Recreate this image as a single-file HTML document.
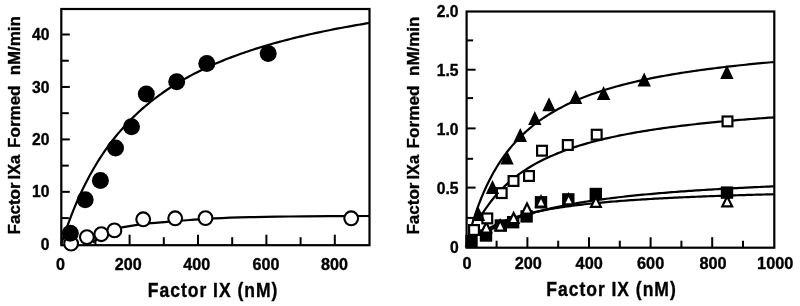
<!DOCTYPE html>
<html><head><meta charset="utf-8"><style>html,body{margin:0;padding:0;background:#fff;width:800px;height:306px;overflow:hidden}text{stroke:#000;stroke-width:0.35px;stroke-linejoin:round}svg{display:block;filter:grayscale(100%)}</style></head><body>
<svg width="800" height="306" viewBox="0 0 800 306" style="font-family:'Liberation Sans',sans-serif;font-weight:bold">
<rect width="800" height="306" fill="#fff"/>
<rect x="61.3" y="9.0" width="308.20" height="236.20" fill="none" stroke="#000" stroke-width="2.2"/>
<line x1="95.40" y1="245.20" x2="95.40" y2="237.20" stroke="#000" stroke-width="2.0"/>
<line x1="129.60" y1="245.20" x2="129.60" y2="234.70" stroke="#000" stroke-width="2.0"/>
<line x1="163.80" y1="245.20" x2="163.80" y2="237.20" stroke="#000" stroke-width="2.0"/>
<line x1="198.00" y1="245.20" x2="198.00" y2="234.70" stroke="#000" stroke-width="2.0"/>
<line x1="232.20" y1="245.20" x2="232.20" y2="237.20" stroke="#000" stroke-width="2.0"/>
<line x1="266.40" y1="245.20" x2="266.40" y2="234.70" stroke="#000" stroke-width="2.0"/>
<line x1="300.60" y1="245.20" x2="300.60" y2="237.20" stroke="#000" stroke-width="2.0"/>
<line x1="334.80" y1="245.20" x2="334.80" y2="234.70" stroke="#000" stroke-width="2.0"/>
<line x1="61.30" y1="218.08" x2="68.80" y2="218.08" stroke="#000" stroke-width="2.0"/>
<line x1="61.30" y1="191.85" x2="69.80" y2="191.85" stroke="#000" stroke-width="2.0"/>
<line x1="61.30" y1="165.62" x2="68.80" y2="165.62" stroke="#000" stroke-width="2.0"/>
<line x1="61.30" y1="139.40" x2="69.80" y2="139.40" stroke="#000" stroke-width="2.0"/>
<line x1="61.30" y1="113.18" x2="68.80" y2="113.18" stroke="#000" stroke-width="2.0"/>
<line x1="61.30" y1="86.95" x2="69.80" y2="86.95" stroke="#000" stroke-width="2.0"/>
<line x1="61.30" y1="60.72" x2="68.80" y2="60.72" stroke="#000" stroke-width="2.0"/>
<line x1="61.30" y1="34.50" x2="69.80" y2="34.50" stroke="#000" stroke-width="2.0"/>
<path d="M61.20,244.30 L63.77,236.38 L66.33,228.88 L68.90,221.78 L71.46,215.05 L74.03,208.64 L76.59,202.55 L79.16,196.75 L81.72,191.22 L84.28,185.94 L86.85,180.89 L89.42,176.06 L91.98,171.44 L94.55,167.01 L97.11,162.76 L99.68,158.68 L102.24,154.76 L104.81,150.99 L107.37,147.36 L109.94,143.87 L112.50,140.50 L115.06,137.25 L117.63,134.12 L120.20,131.09 L122.76,128.17 L125.33,125.34 L127.89,122.61 L130.46,119.96 L133.02,117.40 L135.59,114.92 L138.15,112.51 L140.72,110.18 L143.28,107.92 L145.85,105.72 L148.41,103.59 L150.98,101.51 L153.54,99.50 L156.11,97.54 L158.67,95.64 L161.24,93.78 L163.80,91.98 L166.37,90.22 L168.93,88.51 L171.50,86.84 L174.06,85.22 L176.62,83.63 L179.19,82.09 L181.75,80.58 L184.32,79.11 L186.89,77.67 L189.45,76.27 L192.01,74.90 L194.58,73.56 L197.15,72.25 L199.71,70.97 L202.28,69.72 L204.84,68.50 L207.41,67.30 L209.97,66.13 L212.54,64.99 L215.10,63.86 L217.67,62.77 L220.23,61.69 L222.80,60.64 L225.36,59.60 L227.93,58.59 L230.49,57.60 L233.06,56.63 L235.62,55.67 L238.19,54.74 L240.75,53.82 L243.31,52.92 L245.88,52.04 L248.44,51.17 L251.01,50.32 L253.58,49.48 L256.14,48.66 L258.71,47.86 L261.27,47.06 L263.84,46.29 L266.40,45.52 L268.97,44.77 L271.53,44.03 L274.10,43.31 L276.66,42.59 L279.23,41.89 L281.79,41.20 L284.36,40.52 L286.92,39.85 L289.49,39.20 L292.05,38.55 L294.62,37.91 L297.18,37.29 L299.75,36.67 L302.31,36.06 L304.88,35.46 L307.44,34.88 L310.00,34.30 L312.57,33.72 L315.14,33.16 L317.70,32.61 L320.26,32.06 L322.83,31.52 L325.39,30.99 L327.96,30.47 L330.53,29.96 L333.09,29.45 L335.66,28.95 L338.22,28.45 L340.79,27.97 L343.35,27.49 L345.92,27.01 L348.48,26.55 L351.05,26.08 L353.61,25.63 L356.18,25.18 L358.74,24.74 L361.31,24.30 L363.87,23.87 L366.44,23.45 L369.00,23.03" fill="none" stroke="#000" stroke-width="2.2"/>
<path d="M93.00,242.50 C94.17,241.67 97.50,239.17 100.00,237.50 C102.50,235.83 105.33,233.92 108.00,232.50 C110.67,231.08 113.67,229.87 116.00,229.00 C118.33,228.13 118.73,227.95 122.00,227.30 C125.27,226.65 130.72,225.78 135.60,225.10 C140.48,224.42 146.07,223.73 151.30,223.20 C156.53,222.67 160.55,222.43 167.00,221.90 C173.45,221.37 182.07,220.58 190.00,220.00 C197.93,219.42 204.60,218.87 214.60,218.40 C224.60,217.93 237.43,217.52 250.00,217.20 C262.57,216.88 276.67,216.67 290.00,216.50 C303.33,216.33 316.75,216.28 330.00,216.20 C343.25,216.12 362.92,216.03 369.50,216.00" fill="none" stroke="#000" stroke-width="2.2"/>
<circle cx="71.1" cy="243.6" r="6.9" fill="#fff" stroke="#000" stroke-width="2.1"/>
<circle cx="86.9" cy="237.1" r="6.9" fill="#fff" stroke="#000" stroke-width="2.1"/>
<circle cx="101.3" cy="234.2" r="6.9" fill="#fff" stroke="#000" stroke-width="2.1"/>
<circle cx="114.4" cy="230.4" r="6.9" fill="#fff" stroke="#000" stroke-width="2.1"/>
<circle cx="143.2" cy="219.3" r="6.9" fill="#fff" stroke="#000" stroke-width="2.1"/>
<circle cx="175.2" cy="218.3" r="6.9" fill="#fff" stroke="#000" stroke-width="2.1"/>
<circle cx="205.5" cy="218.1" r="6.9" fill="#fff" stroke="#000" stroke-width="2.1"/>
<circle cx="351.2" cy="218.3" r="6.9" fill="#fff" stroke="#000" stroke-width="2.1"/>
<circle cx="70.3" cy="233.2" r="8.5" fill="#000"/>
<circle cx="85.2" cy="199.8" r="8.5" fill="#000"/>
<circle cx="100.4" cy="180.5" r="8.5" fill="#000"/>
<circle cx="115.5" cy="148.0" r="8.5" fill="#000"/>
<circle cx="131.5" cy="126.8" r="8.5" fill="#000"/>
<circle cx="146.3" cy="94.0" r="8.5" fill="#000"/>
<circle cx="176.7" cy="81.7" r="8.5" fill="#000"/>
<circle cx="206.8" cy="63.5" r="8.5" fill="#000"/>
<circle cx="268.2" cy="53.4" r="8.5" fill="#000"/>
<rect x="466.6" y="11.5" width="307.70" height="236.20" fill="none" stroke="#000" stroke-width="2.2"/>
<line x1="496.60" y1="247.70" x2="496.60" y2="240.70" stroke="#000" stroke-width="2.0"/>
<line x1="527.40" y1="247.70" x2="527.40" y2="237.20" stroke="#000" stroke-width="2.0"/>
<line x1="558.20" y1="247.70" x2="558.20" y2="240.70" stroke="#000" stroke-width="2.0"/>
<line x1="589.00" y1="247.70" x2="589.00" y2="237.20" stroke="#000" stroke-width="2.0"/>
<line x1="619.80" y1="247.70" x2="619.80" y2="240.70" stroke="#000" stroke-width="2.0"/>
<line x1="650.60" y1="247.70" x2="650.60" y2="237.20" stroke="#000" stroke-width="2.0"/>
<line x1="681.40" y1="247.70" x2="681.40" y2="240.70" stroke="#000" stroke-width="2.0"/>
<line x1="712.20" y1="247.70" x2="712.20" y2="237.20" stroke="#000" stroke-width="2.0"/>
<line x1="743.00" y1="247.70" x2="743.00" y2="240.70" stroke="#000" stroke-width="2.0"/>
<line x1="466.60" y1="217.90" x2="473.10" y2="217.90" stroke="#000" stroke-width="2.0"/>
<line x1="466.60" y1="187.60" x2="475.60" y2="187.60" stroke="#000" stroke-width="2.0"/>
<line x1="466.60" y1="158.80" x2="473.10" y2="158.80" stroke="#000" stroke-width="2.0"/>
<line x1="466.60" y1="128.40" x2="475.60" y2="128.40" stroke="#000" stroke-width="2.0"/>
<line x1="466.60" y1="98.10" x2="473.10" y2="98.10" stroke="#000" stroke-width="2.0"/>
<line x1="466.60" y1="69.70" x2="475.60" y2="69.70" stroke="#000" stroke-width="2.0"/>
<line x1="466.60" y1="40.40" x2="473.10" y2="40.40" stroke="#000" stroke-width="2.0"/>
<path d="M465.80,247.50 L468.37,237.38 L470.93,228.16 L473.50,219.73 L476.07,211.98 L478.63,204.85 L481.20,198.26 L483.77,192.14 L486.33,186.46 L488.90,181.16 L491.47,176.21 L494.03,171.57 L496.60,167.22 L499.17,163.13 L501.73,159.28 L504.30,155.65 L506.87,152.21 L509.43,148.96 L512.00,145.88 L514.57,142.95 L517.13,140.17 L519.70,137.52 L522.27,135.00 L524.83,132.59 L527.40,130.29 L529.97,128.10 L532.53,125.99 L535.10,123.98 L537.67,122.05 L540.23,120.20 L542.80,118.42 L545.37,116.71 L547.93,115.06 L550.50,113.48 L553.07,111.95 L555.63,110.48 L558.20,109.06 L560.77,107.70 L563.33,106.37 L565.90,105.10 L568.47,103.86 L571.03,102.67 L573.60,101.51 L576.17,100.39 L578.73,99.30 L581.30,98.25 L583.87,97.23 L586.43,96.24 L589.00,95.28 L591.57,94.34 L594.13,93.44 L596.70,92.56 L599.27,91.70 L601.83,90.86 L604.40,90.05 L606.97,89.26 L609.53,88.49 L612.10,87.74 L614.67,87.01 L617.23,86.30 L619.80,85.61 L622.37,84.93 L624.93,84.27 L627.50,83.62 L630.07,82.99 L632.63,82.38 L635.20,81.78 L637.77,81.19 L640.33,80.62 L642.90,80.05 L645.47,79.51 L648.03,78.97 L650.60,78.44 L653.17,77.93 L655.73,77.43 L658.30,76.94 L660.87,76.45 L663.43,75.98 L666.00,75.52 L668.57,75.06 L671.13,74.62 L673.70,74.18 L676.27,73.76 L678.83,73.34 L681.40,72.93 L683.97,72.53 L686.53,72.13 L689.10,71.74 L691.67,71.36 L694.23,70.99 L696.80,70.62 L699.37,70.26 L701.93,69.90 L704.50,69.56 L707.07,69.21 L709.63,68.88 L712.20,68.55 L714.77,68.22 L717.33,67.91 L719.90,67.59 L722.47,67.28 L725.03,66.98 L727.60,66.68 L730.17,66.39 L732.73,66.10 L735.30,65.81 L737.87,65.53 L740.43,65.26 L743.00,64.99 L745.57,64.72 L748.13,64.46 L750.70,64.20 L753.27,63.94 L755.83,63.69 L758.40,63.45 L760.97,63.20 L763.53,62.96 L766.10,62.73 L768.67,62.49 L771.23,62.26 L773.80,62.04" fill="none" stroke="#000" stroke-width="2.2"/>
<path d="M478.74,219.79 L481.19,215.61 L483.65,211.69 L486.11,208.01 L488.57,204.55 L491.03,201.29 L493.49,198.22 L495.95,195.31 L498.41,192.56 L500.87,189.95 L503.32,187.48 L505.78,185.12 L508.24,182.88 L510.70,180.75 L513.16,178.71 L515.62,176.77 L518.08,174.91 L520.54,173.13 L523.00,171.43 L525.45,169.79 L527.91,168.22 L530.37,166.72 L532.83,165.27 L535.29,163.88 L537.75,162.54 L540.21,161.25 L542.67,160.00 L545.13,158.80 L547.58,157.64 L550.04,156.53 L552.50,155.44 L554.96,154.40 L557.42,153.39 L559.88,152.41 L562.34,151.46 L564.80,150.54 L567.26,149.65 L569.71,148.79 L572.17,147.95 L574.63,147.13 L577.09,146.34 L579.55,145.57 L582.01,144.83 L584.47,144.10 L586.93,143.40 L589.38,142.71 L591.84,142.04 L594.30,141.39 L596.76,140.75 L599.22,140.13 L601.68,139.53 L604.14,138.94 L606.60,138.37 L609.06,137.81 L611.51,137.26 L613.97,136.73 L616.43,136.21 L618.89,135.70 L621.35,135.20 L623.81,134.72 L626.27,134.24 L628.73,133.78 L631.19,133.32 L633.64,132.88 L636.10,132.44 L638.56,132.02 L641.02,131.60 L643.48,131.19 L645.94,130.79 L648.40,130.40 L650.86,130.02 L653.32,129.64 L655.77,129.27 L658.23,128.91 L660.69,128.55 L663.15,128.21 L665.61,127.86 L668.07,127.53 L670.53,127.20 L672.99,126.88 L675.45,126.56 L677.90,126.25 L680.36,125.94 L682.82,125.64 L685.28,125.35 L687.74,125.06 L690.20,124.78 L692.66,124.50 L695.12,124.22 L697.58,123.95 L700.03,123.69 L702.49,123.42 L704.95,123.17 L707.41,122.91 L709.87,122.67 L712.33,122.42 L714.79,122.18 L717.25,121.94 L719.70,121.71 L722.16,121.48 L724.62,121.25 L727.08,121.03 L729.54,120.81 L732.00,120.60 L734.46,120.38 L736.92,120.17 L739.38,119.97 L741.83,119.76 L744.29,119.56 L746.75,119.37 L749.21,119.17 L751.67,118.98 L754.13,118.79 L756.59,118.60 L759.05,118.42 L761.51,118.24 L763.96,118.06 L766.42,117.88 L768.88,117.71 L771.34,117.54 L773.80,117.37" fill="none" stroke="#000" stroke-width="2.2"/>
<path d="M482.74,234.45 L485.17,232.93 L487.59,231.48 L490.02,230.10 L492.44,228.77 L494.87,227.51 L497.29,226.29 L499.72,225.13 L502.14,224.01 L504.57,222.94 L507.00,221.91 L509.42,220.91 L511.85,219.96 L514.27,219.04 L516.70,218.15 L519.12,217.29 L521.55,216.47 L523.97,215.67 L526.40,214.90 L528.82,214.15 L531.25,213.43 L533.68,212.73 L536.10,212.05 L538.53,211.40 L540.95,210.76 L543.38,210.14 L545.80,209.55 L548.23,208.96 L550.65,208.40 L553.08,207.85 L555.50,207.32 L557.93,206.80 L560.36,206.29 L562.78,205.80 L565.21,205.32 L567.63,204.86 L570.06,204.41 L572.48,203.96 L574.91,203.53 L577.33,203.11 L579.76,202.70 L582.19,202.30 L584.61,201.91 L587.04,201.53 L589.46,201.16 L591.89,200.79 L594.31,200.44 L596.74,200.09 L599.16,199.75 L601.59,199.42 L604.01,199.09 L606.44,198.78 L608.87,198.47 L611.29,198.16 L613.72,197.86 L616.14,197.57 L618.57,197.28 L620.99,197.00 L623.42,196.73 L625.84,196.46 L628.27,196.20 L630.70,195.94 L633.12,195.68 L635.55,195.43 L637.97,195.19 L640.40,194.95 L642.82,194.72 L645.25,194.48 L647.67,194.26 L650.10,194.04 L652.52,193.82 L654.95,193.60 L657.38,193.39 L659.80,193.18 L662.23,192.98 L664.65,192.78 L667.08,192.58 L669.50,192.39 L671.93,192.20 L674.35,192.01 L676.78,191.83 L679.21,191.65 L681.63,191.47 L684.06,191.29 L686.48,191.12 L688.91,190.95 L691.33,190.79 L693.76,190.62 L696.18,190.46 L698.61,190.30 L701.03,190.14 L703.46,189.99 L705.89,189.84 L708.31,189.69 L710.74,189.54 L713.16,189.39 L715.59,189.25 L718.01,189.11 L720.44,188.97 L722.86,188.83 L725.29,188.69 L727.72,188.56 L730.14,188.43 L732.57,188.30 L734.99,188.17 L737.42,188.04 L739.84,187.92 L742.27,187.80 L744.69,187.67 L747.12,187.56 L749.55,187.44 L751.97,187.32 L754.40,187.21 L756.82,187.09 L759.25,186.98 L761.67,186.87 L764.10,186.76 L766.52,186.65 L768.95,186.54 L771.37,186.44 L773.80,186.34" fill="none" stroke="#000" stroke-width="2.2"/>
<path d="M482.74,232.30 L485.17,230.71 L487.59,229.22 L490.02,227.83 L492.44,226.52 L494.87,225.29 L497.29,224.14 L499.72,223.04 L502.14,222.01 L504.57,221.03 L507.00,220.10 L509.42,219.22 L511.85,218.38 L514.27,217.58 L516.70,216.82 L519.12,216.10 L521.55,215.41 L523.97,214.74 L526.40,214.11 L528.82,213.50 L531.25,212.92 L533.68,212.36 L536.10,211.82 L538.53,211.31 L540.95,210.81 L543.38,210.33 L545.80,209.87 L548.23,209.43 L550.65,209.00 L553.08,208.58 L555.50,208.18 L557.93,207.80 L560.36,207.42 L562.78,207.06 L565.21,206.71 L567.63,206.38 L570.06,206.05 L572.48,205.73 L574.91,205.42 L577.33,205.12 L579.76,204.83 L582.19,204.55 L584.61,204.27 L587.04,204.01 L589.46,203.75 L591.89,203.49 L594.31,203.25 L596.74,203.01 L599.16,202.78 L601.59,202.55 L604.01,202.33 L606.44,202.11 L608.87,201.90 L611.29,201.70 L613.72,201.50 L616.14,201.30 L618.57,201.11 L620.99,200.92 L623.42,200.74 L625.84,200.56 L628.27,200.39 L630.70,200.22 L633.12,200.05 L635.55,199.89 L637.97,199.73 L640.40,199.58 L642.82,199.42 L645.25,199.28 L647.67,199.13 L650.10,198.99 L652.52,198.85 L654.95,198.71 L657.38,198.57 L659.80,198.44 L662.23,198.31 L664.65,198.19 L667.08,198.06 L669.50,197.94 L671.93,197.82 L674.35,197.70 L676.78,197.59 L679.21,197.47 L681.63,197.36 L684.06,197.25 L686.48,197.14 L688.91,197.04 L691.33,196.94 L693.76,196.83 L696.18,196.73 L698.61,196.64 L701.03,196.54 L703.46,196.44 L705.89,196.35 L708.31,196.26 L710.74,196.17 L713.16,196.08 L715.59,195.99 L718.01,195.90 L720.44,195.82 L722.86,195.74 L725.29,195.65 L727.72,195.57 L730.14,195.49 L732.57,195.41 L734.99,195.34 L737.42,195.26 L739.84,195.19 L742.27,195.11 L744.69,195.04 L747.12,194.97 L749.55,194.90 L751.97,194.83 L754.40,194.76 L756.82,194.69 L759.25,194.62 L761.67,194.56 L764.10,194.49 L766.52,194.43 L768.95,194.36 L771.37,194.30 L773.80,194.24" fill="none" stroke="#000" stroke-width="2.2"/>
<rect x="465.30" y="234.80" width="12.4" height="12.4" fill="#000"/>
<rect x="479.80" y="229.30" width="12.4" height="12.4" fill="#000"/>
<rect x="494.60" y="219.30" width="12.4" height="12.4" fill="#000"/>
<rect x="506.90" y="216.00" width="12.4" height="12.4" fill="#000"/>
<rect x="520.40" y="210.20" width="12.4" height="12.4" fill="#000"/>
<rect x="534.80" y="196.10" width="12.4" height="12.4" fill="#000"/>
<rect x="562.10" y="193.20" width="12.4" height="12.4" fill="#000"/>
<rect x="589.60" y="187.80" width="12.4" height="12.4" fill="#000"/>
<rect x="720.80" y="186.40" width="12.4" height="12.4" fill="#000"/>
<polygon points="486.30,222.60 491.20,232.50 481.40,232.50" fill="#fff" stroke="#000" stroke-width="2.2" stroke-linejoin="miter"/>
<polygon points="500.20,220.60 505.10,230.50 495.30,230.50" fill="#fff" stroke="#000" stroke-width="2.2" stroke-linejoin="miter"/>
<polygon points="513.60,213.10 518.50,223.00 508.70,223.00" fill="#fff" stroke="#000" stroke-width="2.2" stroke-linejoin="miter"/>
<polygon points="527.00,203.60 531.90,213.50 522.10,213.50" fill="#fff" stroke="#000" stroke-width="2.2" stroke-linejoin="miter"/>
<polygon points="541.00,196.60 545.90,206.50 536.10,206.50" fill="#fff" stroke="#000" stroke-width="2.2" stroke-linejoin="miter"/>
<polygon points="568.60,194.40 573.50,204.30 563.70,204.30" fill="#fff" stroke="#000" stroke-width="2.2" stroke-linejoin="miter"/>
<polygon points="595.90,196.90 600.80,206.80 591.00,206.80" fill="#fff" stroke="#000" stroke-width="2.2" stroke-linejoin="miter"/>
<polygon points="727.20,196.40 732.10,206.30 722.30,206.30" fill="#fff" stroke="#000" stroke-width="2.2" stroke-linejoin="miter"/>
<rect x="469.10" y="225.10" width="9.80" height="9.80" fill="#fff" stroke="#000" stroke-width="2.2"/>
<rect x="482.40" y="213.50" width="9.80" height="9.80" fill="#fff" stroke="#000" stroke-width="2.2"/>
<rect x="496.80" y="188.20" width="9.80" height="9.80" fill="#fff" stroke="#000" stroke-width="2.2"/>
<rect x="508.60" y="176.10" width="9.80" height="9.80" fill="#fff" stroke="#000" stroke-width="2.2"/>
<rect x="524.10" y="171.10" width="9.80" height="9.80" fill="#fff" stroke="#000" stroke-width="2.2"/>
<rect x="537.10" y="145.80" width="9.80" height="9.80" fill="#fff" stroke="#000" stroke-width="2.2"/>
<rect x="562.90" y="140.10" width="9.80" height="9.80" fill="#fff" stroke="#000" stroke-width="2.2"/>
<rect x="591.80" y="129.80" width="9.80" height="9.80" fill="#fff" stroke="#000" stroke-width="2.2"/>
<rect x="722.60" y="116.50" width="9.80" height="9.80" fill="#fff" stroke="#000" stroke-width="2.2"/>
<polygon points="478.50,207.00 485.20,221.00 471.80,221.00" fill="#000"/>
<polygon points="492.50,180.00 499.20,194.00 485.80,194.00" fill="#000"/>
<polygon points="507.00,150.40 513.70,164.40 500.30,164.40" fill="#000"/>
<polygon points="520.30,127.90 527.00,141.90 513.60,141.90" fill="#000"/>
<polygon points="534.80,110.90 541.50,124.90 528.10,124.90" fill="#000"/>
<polygon points="549.00,97.20 555.70,111.20 542.30,111.20" fill="#000"/>
<polygon points="575.60,90.00 582.30,104.00 568.90,104.00" fill="#000"/>
<polygon points="603.60,85.90 610.30,99.90 596.90,99.90" fill="#000"/>
<polygon points="644.20,72.40 650.90,86.40 637.50,86.40" fill="#000"/>
<polygon points="726.90,65.00 733.60,79.00 720.20,79.00" fill="#000"/>
<text x="49.40" y="249.90" font-size="16.0" text-anchor="end" textLength="8.72" lengthAdjust="spacingAndGlyphs">0</text>
<text x="49.40" y="197.45" font-size="16.0" text-anchor="end" textLength="17.44" lengthAdjust="spacingAndGlyphs">10</text>
<text x="49.40" y="145.00" font-size="16.0" text-anchor="end" textLength="17.44" lengthAdjust="spacingAndGlyphs">20</text>
<text x="49.40" y="92.55" font-size="16.0" text-anchor="end" textLength="17.44" lengthAdjust="spacingAndGlyphs">30</text>
<text x="49.40" y="40.10" font-size="16.0" text-anchor="end" textLength="17.44" lengthAdjust="spacingAndGlyphs">40</text>
<text x="60.45" y="269.90" font-size="16.0" text-anchor="middle" textLength="8.98" lengthAdjust="spacingAndGlyphs">0</text>
<text x="128.20" y="269.90" font-size="16.0" text-anchor="middle" textLength="26.94" lengthAdjust="spacingAndGlyphs">200</text>
<text x="196.80" y="269.90" font-size="16.0" text-anchor="middle" textLength="26.94" lengthAdjust="spacingAndGlyphs">400</text>
<text x="266.10" y="269.90" font-size="16.0" text-anchor="middle" textLength="26.94" lengthAdjust="spacingAndGlyphs">600</text>
<text x="334.50" y="269.90" font-size="16.0" text-anchor="middle" textLength="26.94" lengthAdjust="spacingAndGlyphs">800</text>
<text x="458.60" y="253.10" font-size="16.0" text-anchor="end" textLength="8.72" lengthAdjust="spacingAndGlyphs">0</text>
<text x="458.60" y="194.05" font-size="16.0" text-anchor="end" textLength="21.8" lengthAdjust="spacingAndGlyphs">0.5</text>
<text x="458.60" y="135.00" font-size="16.0" text-anchor="end" textLength="21.8" lengthAdjust="spacingAndGlyphs">1.0</text>
<text x="458.60" y="75.95" font-size="16.0" text-anchor="end" textLength="21.8" lengthAdjust="spacingAndGlyphs">1.5</text>
<text x="458.60" y="16.90" font-size="16.0" text-anchor="end" textLength="21.8" lengthAdjust="spacingAndGlyphs">2.0</text>
<text x="467.00" y="269.30" font-size="16.0" text-anchor="middle" textLength="9.07" lengthAdjust="spacingAndGlyphs">0</text>
<text x="528.30" y="269.30" font-size="16.0" text-anchor="middle" textLength="27.2" lengthAdjust="spacingAndGlyphs">200</text>
<text x="589.20" y="269.30" font-size="16.0" text-anchor="middle" textLength="27.2" lengthAdjust="spacingAndGlyphs">400</text>
<text x="650.60" y="269.30" font-size="16.0" text-anchor="middle" textLength="27.2" lengthAdjust="spacingAndGlyphs">600</text>
<text x="713.00" y="269.30" font-size="16.0" text-anchor="middle" textLength="27.2" lengthAdjust="spacingAndGlyphs">800</text>
<text x="775.20" y="269.30" font-size="16.0" text-anchor="middle" textLength="36.27" lengthAdjust="spacingAndGlyphs">1000</text>
<text transform="translate(212.60,296.50) scale(0.9,1)" x="0" y="0" font-size="19.5" text-anchor="middle" textLength="143.89" lengthAdjust="spacing">Factor IX (nM)</text>
<text transform="translate(611.00,296.40) scale(0.9,1)" x="0" y="0" font-size="19.5" text-anchor="middle" textLength="143.89" lengthAdjust="spacing">Factor IX (nM)</text>
<text transform="translate(19.80,234.40) rotate(-90)" x="0" y="0" font-size="16.0" textLength="52.00" lengthAdjust="spacingAndGlyphs">Factor</text>
<text transform="translate(19.80,179.40) rotate(-90)" x="0" y="0" font-size="16.0" textLength="24.60" lengthAdjust="spacingAndGlyphs">IXa</text>
<text transform="translate(19.80,147.90) rotate(-90)" x="0" y="0" font-size="16.0" textLength="62.40" lengthAdjust="spacingAndGlyphs">Formed</text>
<text transform="translate(19.80,75.30) rotate(-90)" x="0" y="0" font-size="16.0" textLength="59.00" lengthAdjust="spacingAndGlyphs">nM/min</text>
<text transform="translate(418.90,234.60) rotate(-90)" x="0" y="0" font-size="16.0" textLength="52.00" lengthAdjust="spacingAndGlyphs">Factor</text>
<text transform="translate(418.90,179.60) rotate(-90)" x="0" y="0" font-size="16.0" textLength="24.60" lengthAdjust="spacingAndGlyphs">IXa</text>
<text transform="translate(418.90,148.40) rotate(-90)" x="0" y="0" font-size="16.0" textLength="62.90" lengthAdjust="spacingAndGlyphs">Formed</text>
<text transform="translate(418.90,75.90) rotate(-90)" x="0" y="0" font-size="16.0" textLength="59.30" lengthAdjust="spacingAndGlyphs">nM/min</text>
</svg>
</body></html>
